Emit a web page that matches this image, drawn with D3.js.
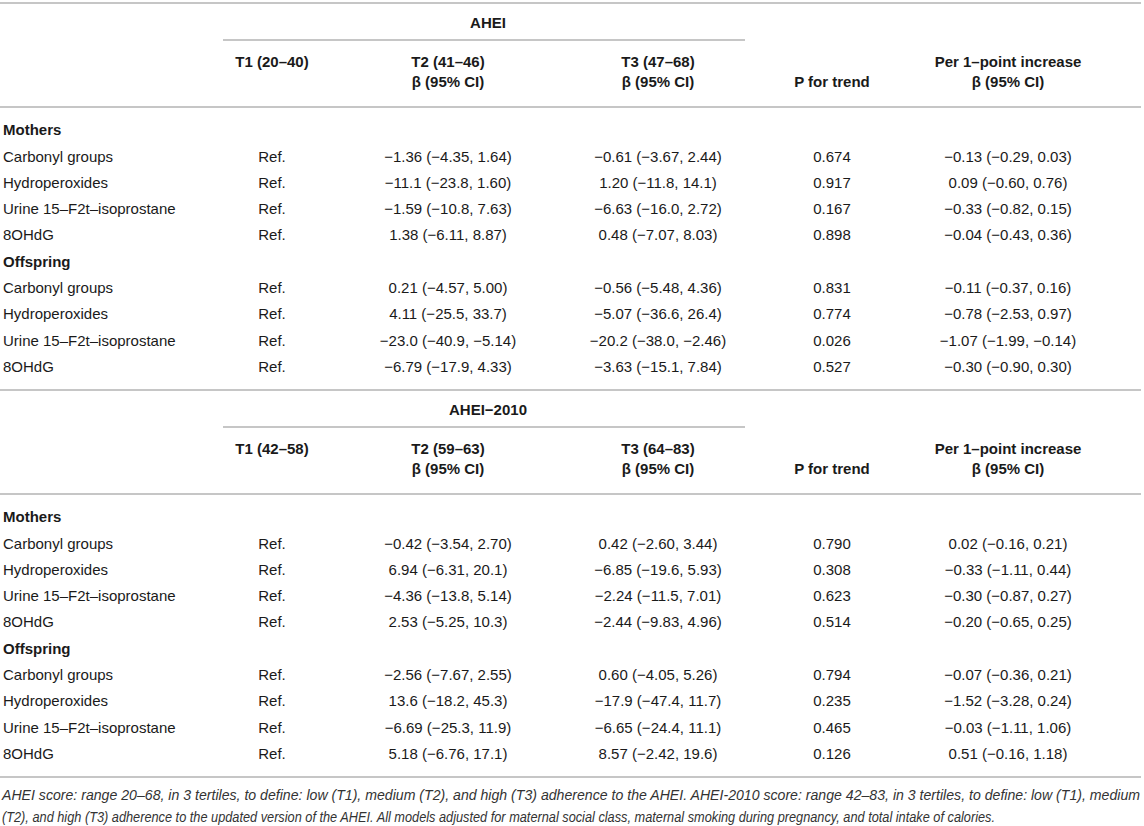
<!DOCTYPE html>
<html>
<head>
<meta charset="utf-8">
<script src="https://cdn.jsdelivr.net/npm/d3@7"></script>
<style>
  body { margin: 0; background: #fff; }
  text { font-family: "Liberation Sans", Arial, sans-serif; fill: #1a1a1a; }
</style>
</head>
<body>
<svg id="vis" width="1144" height="826"></svg>
<script>
// row labels
let groups = ["Mothers", "Offspring"];
let outcomes = ["Carbonyl groups", "Hydroperoxides", "Urine 15–F2t–isoprostane", "8OHdG"];

// block titles and tertile headers
let block_titles = ["AHEI", "AHEI−2010"];
let tertile_heads = [
    ["T1 (20–40)", "T2 (41–46)", "T3 (47–68)"],
    ["T1 (42–58)", "T2 (59–63)", "T3 (64–83)"]
];

// AHEI: beta, low, high  (mothers x4 then offspring x4)
let ahei_t2 = [
    [-1.36, -4.35, 1.64], [-11.1, -23.8, 1.60], [-1.59, -10.8, 7.63], [1.38, -6.11, 8.87],
    [0.21, -4.57, 5.00], [4.11, -25.5, 33.7], [-23.0, -40.9, -5.14], [-6.79, -17.9, 4.33]
];
let ahei_t3 = [
    [-0.61, -3.67, 2.44], [1.20, -11.8, 14.1], [-6.63, -16.0, 2.72], [0.48, -7.07, 8.03],
    [-0.56, -5.48, 4.36], [-5.07, -36.6, 26.4], [-20.2, -38.0, -2.46], [-3.63, -15.1, 7.84]
];
let ahei_p = [0.674, 0.917, 0.167, 0.898, 0.831, 0.774, 0.026, 0.527];
let ahei_per = [
    [-0.13, -0.29, 0.03], [0.09, -0.60, 0.76], [-0.33, -0.82, 0.15], [-0.04, -0.43, 0.36],
    [-0.11, -0.37, 0.16], [-0.78, -2.53, 0.97], [-1.07, -1.99, -0.14], [-0.30, -0.90, 0.30]
];

// AHEI-2010
let ahei2010_t2 = [
    [-0.42, -3.54, 2.70], [6.94, -6.31, 20.1], [-4.36, -13.8, 5.14], [2.53, -5.25, 10.3],
    [-2.56, -7.67, 2.55], [13.6, -18.2, 45.3], [-6.69, -25.3, 11.9], [5.18, -6.76, 17.1]
];
let ahei2010_t3 = [
    [0.42, -2.60, 3.44], [-6.85, -19.6, 5.93], [-2.24, -11.5, 7.01], [-2.44, -9.83, 4.96],
    [0.60, -4.05, 5.26], [-17.9, -47.4, 11.7], [-6.65, -24.4, 11.1], [8.57, -2.42, 19.6]
];
let ahei2010_p = [0.790, 0.308, 0.623, 0.514, 0.794, 0.235, 0.465, 0.126];
let ahei2010_per = [
    [0.02, -0.16, 0.21], [-0.33, -1.11, 0.44], [-0.30, -0.87, 0.27], [-0.20, -0.65, 0.25],
    [-0.07, -0.36, 0.21], [-1.52, -3.28, 0.24], [-0.03, -1.11, 1.06], [0.51, -0.16, 1.18]
];

let footnote = [
    "AHEI score: range 20–68, in 3 tertiles, to define: low (T1), medium (T2), and high (T3) adherence to the AHEI. AHEI-2010 score: range 42–83, in 3 tertiles, to define: low (T1), medium",
    "(T2), and high (T3) adherence to the updated version of the AHEI. All models adjusted for maternal social class, maternal smoking during pregnancy, and total intake of calories."
];

let blocks = [
    { t2: ahei_t2, t3: ahei_t3, p: ahei_p, per: ahei_per },
    { t2: ahei2010_t2, t3: ahei2010_t3, p: ahei2010_p, per: ahei2010_per }
];

function num(v) {
    let s = Math.abs(v) >= 10 ? v.toFixed(1) : v.toFixed(2);
    return s.replace("-", "\u2212");
}
function ci(d) {
    return `${num(d[0])} (${num(d[1])}, ${num(d[2])})`;
}

let svg = d3.select("#vis");
let W = 1141;
let line_col = "#b3b3b3";

let col_keys = ["t1", "t2", "t3", "p", "per"];
let x = d3.scaleOrdinal().domain(col_keys).range([272, 448, 658, 832, 1008]);

// body rows: group header then four outcomes, for each group
let row_keys = [];
groups.forEach((g, gi) => {
    row_keys.push(g);
    outcomes.forEach((o, oi) => row_keys.push(g + "|" + o));
});

let block_h = 387;
let by = d3.scaleLinear().domain([0, 1]).range([3, 3 + block_h]);

blocks.forEach((b, bi) => {
    let y0 = by(bi);
    let g = svg.append("g");

    let y = d3.scalePoint()
        .domain(row_keys)
        .range([y0 + 127, y0 + 127 + 26.3 * (row_keys.length - 1)]);

    // top rule
    g.append("line").attr("x1", 0).attr("x2", W).attr("y1", y0).attr("y2", y0)
        .attr("stroke", line_col).attr("stroke-width", 1.6);

    // spanning title
    g.append("text").attr("x", 488).attr("y", y0 + 20).attr("dy", "0.35em")
        .attr("text-anchor", "middle").attr("font-weight", "bold").attr("font-size", 15)
        .text(block_titles[bi]);
    g.append("line").attr("x1", 223).attr("x2", 745).attr("y1", y0 + 37).attr("y2", y0 + 37)
        .attr("stroke", line_col).attr("stroke-width", 1.6);

    // column headers
    let heads = [
        { k: "t1", lines: [tertile_heads[bi][0]] },
        { k: "t2", lines: [tertile_heads[bi][1], "β (95% CI)"] },
        { k: "t3", lines: [tertile_heads[bi][2], "β (95% CI)"] },
        { k: "p", lines: [null, "P for trend"] },
        { k: "per", lines: ["Per 1–point increase", "β (95% CI)"] }
    ];
    heads.forEach(h => {
        h.lines.forEach((t, li) => {
            if (!t) return;
            g.append("text").attr("x", x(h.k)).attr("y", y0 + 59 + li * 20).attr("dy", "0.35em")
                .attr("text-anchor", "middle").attr("font-weight", "bold").attr("font-size", 15)
                .text(t);
        });
    });
    g.append("line").attr("x1", 0).attr("x2", W).attr("y1", y0 + 104).attr("y2", y0 + 104)
        .attr("stroke", line_col).attr("stroke-width", 1.6);

    // body
    row_keys.forEach(rk => {
        let parts = rk.split("|");
        let ry = y(rk);
        if (parts.length === 1) {
            g.append("text").attr("x", 3).attr("y", ry).attr("dy", "0.35em")
                .attr("font-weight", "bold").attr("font-size", 15).text(parts[0]);
            return;
        }
        let idx = groups.indexOf(parts[0]) * outcomes.length + outcomes.indexOf(parts[1]);
        let cells = [
            { k: "t1", t: "Ref." },
            { k: "t2", t: ci(b.t2[idx]) },
            { k: "t3", t: ci(b.t3[idx]) },
            { k: "p", t: b.p[idx].toFixed(3) },
            { k: "per", t: ci(b.per[idx]) }
        ];
        g.append("text").attr("x", 3).attr("y", ry).attr("dy", "0.35em")
            .attr("font-size", 15).text(parts[1]);
        g.selectAll(null).data(cells).enter().append("text")
            .attr("x", d => x(d.k)).attr("y", ry).attr("dy", "0.35em")
            .attr("text-anchor", "middle").attr("font-size", 15)
            .text(d => d.t);
    });
});

// bottom rule
let yb = by(2);
svg.append("line").attr("x1", 0).attr("x2", W).attr("y1", yb).attr("y2", yb)
    .attr("stroke", line_col).attr("stroke-width", 1.6);

// footnote
let fn_len = [1138, 993];
footnote.forEach((t, i) => {
    svg.append("text").attr("x", 2).attr("y", yb + 18 + i * 22).attr("dy", "0.35em")
        .attr("font-style", "italic").attr("font-size", 14)
        .style("font-family", "'Liberation Sans Narrow', 'Liberation Sans', sans-serif")
        .style("fill", "#333")
        .attr("textLength", fn_len[i]).attr("lengthAdjust", "spacingAndGlyphs")
        .text(t);
});
</script>
</body>
</html>
